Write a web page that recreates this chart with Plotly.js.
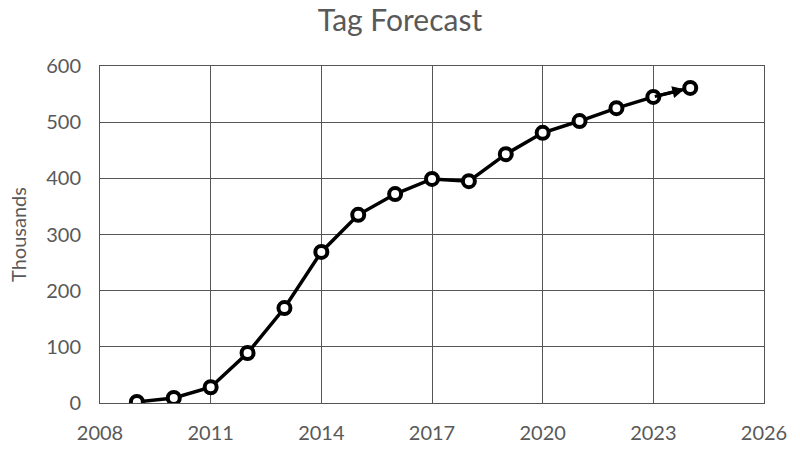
<!DOCTYPE html>
<html><head><meta charset="utf-8">
<script src="https://cdn.plot.ly/plotly-3.0.1.min.js"></script>
<style>html,body{margin:0;padding:0;background:#fff}#chart{width:800px;height:454px}</style>
</head><body><div id="chart"></div>
<script>
const years = [2009,2010,2011,2012,2013,2014,2015,2016,2017,2018,2019,2020,2021,2022,2023,2024];
const tagsThousands = [2,9,28,89,169,269,335,372,399,395,443,481,502,525,545,561];
const xTicks = [2008,2011,2014,2017,2020,2023,2026];
const yTicks = [0,100,200,300,400,500,600];

const n = years.length;
const trace = {
  x: years, y: tagsThousands, type: 'scatter', mode: 'lines+markers',
  line: {color: '#000', width: 3.5},
  marker: {symbol: 'circle', size: 12, color: '#fff', line: {color: '#000', width: 4}},
  hoverinfo: 'skip'
};
const layout = {
  width: 800, height: 454,
  margin: {l: 100, r: 36, t: 66, b: 51},
  paper_bgcolor: '#fff', plot_bgcolor: '#fff',
  font: {family: 'Lato, "Open Sans", sans-serif', color: '#595959', size: 20},
  title: {text: 'Tag Forecast', x: 0.5, xanchor: 'center', y: 0.955, yanchor: 'middle',
          font: {size: 30, color: '#595959'}},
  showlegend: false,
  xaxis: {range: [2008, 2026], tickvals: xTicks, ticktext: xTicks.map(String),
          showgrid: true, gridcolor: '#555', gridwidth: 1, zeroline: false,
          showline: true, linecolor: '#555', linewidth: 1, mirror: true, ticks: '',
          ticklabelstandoff: 12,
          tickfont: {size: 20, color: '#595959'}},
  yaxis: {range: [0, 600], tickvals: yTicks, ticktext: yTicks.map(String),
          showgrid: true, gridcolor: '#555', gridwidth: 1, zeroline: false,
          showline: true, linecolor: '#555', linewidth: 1, mirror: true, ticks: '',
          ticklabelstandoff: 14, tickfont: {size: 20, color: '#595959'},
          title: {text: 'Thousands', font: {size: 20, color: '#595959'}, standoff: 14}},
  annotations: [{
    x: years[n-1], y: tagsThousands[n-1], ax: years[n-2], ay: tagsThousands[n-2],
    xref: 'x', yref: 'y', axref: 'x', ayref: 'y', text: '', showarrow: true,
    arrowhead: 2, arrowsize: 0.8, arrowwidth: 3, arrowcolor: '#000', standoff: 6
  }]
};
Plotly.newPlot('chart', [trace], layout, {staticPlot: true, displayModeBar: false});
</script></body></html>
